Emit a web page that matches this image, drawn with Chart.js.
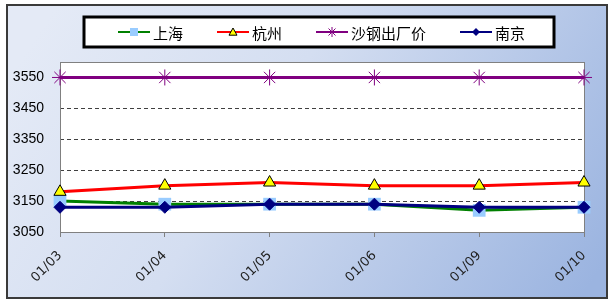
<!DOCTYPE html>
<html lang="zh-cn">
<head>
    <meta charset="UTF-8">
    <title>价格走势</title>
    <script src="https://cdn.jsdelivr.net/npm/chart.js"></script>
    <style>
        html, body { margin: 0; padding: 0; background: #fff; }
        #wrap { width: 614px; height: 303px; }
    </style>
</head>
<body>
    <div id="wrap"><canvas id="myChart" width="614" height="303"></canvas></div>

    <script>
        // 数据
        const categories = ['01/03', '01/04', '01/05', '01/06', '01/09', '01/10'];
        const shanghai = [3150, 3140, 3140, 3140, 3120, 3130];
        const hangzhou = [3180, 3200, 3210, 3200, 3200, 3210];
        const shagang = [3550, 3550, 3550, 3550, 3550, 3550];
        const nanjing = [3130, 3130, 3140, 3140, 3130, 3130];
        const yTicks = [3050, 3150, 3250, 3350, 3450, 3550];
        const yMin = 3050;
        const yMax = 3600;

        // 背景、绘图区边框、图例
        const excelLook = {
            id: 'excelLook',
            beforeDraw(chart) {
                const ctx = chart.ctx;
                ctx.save();
                ctx.fillStyle = '#fff';
                ctx.fillRect(0, 0, chart.width, chart.height);
                const g = ctx.createLinearGradient(60, 0, 560, 330);
                g.addColorStop(0, '#e4eaf6');
                g.addColorStop(0.4, '#d4def1');
                g.addColorStop(1, '#9bb4e0');
                ctx.fillStyle = g;
                ctx.fillRect(7, 5, 600, 293);
                ctx.strokeStyle = '#3a3a3a';
                ctx.lineWidth = 2;
                ctx.strokeRect(7, 5, 600, 293);
                const a = chart.chartArea;
                ctx.fillStyle = '#fff';
                ctx.fillRect(a.left, a.top, a.right - a.left, a.bottom - a.top);
                ctx.restore();
            },
            beforeDatasetsDraw(chart) {
                const ctx = chart.ctx;
                const a = chart.chartArea;
                ctx.save();
                ctx.strokeStyle = '#808080';
                ctx.lineWidth = 1;
                ctx.strokeRect(a.left + 0.5, a.top + 0.5, a.right - a.left, a.bottom - a.top);
                ctx.restore();
            },
            afterDraw(chart) {
                const ctx = chart.ctx;
                ctx.save();
                // 图例框
                ctx.fillStyle = '#fff';
                ctx.fillRect(84, 17, 470, 30);
                ctx.strokeStyle = '#000';
                ctx.lineWidth = 3;
                ctx.strokeRect(84, 17, 470, 30);
                ctx.font = '15px "Noto Sans CJK SC"';
                ctx.textBaseline = 'middle';
                let x = 118;
                const y = 32;
                chart.data.datasets.forEach(ds => {
                    ctx.strokeStyle = ds.borderColor;
                    ctx.lineWidth = 2;
                    ctx.beginPath();
                    ctx.moveTo(x, y);
                    ctx.lineTo(x + 32, y);
                    ctx.stroke();
                    ctx.fillStyle = ds.pointBackgroundColor;
                    ctx.strokeStyle = ds.pointBorderColor;
                    ctx.lineWidth = 1;
                    drawMarker(ctx, ds.pointStyle, ds.legendRadius, x + 16, y);
                    ctx.fillStyle = '#000';
                    ctx.fillText(ds.label, x + 35, y + 1);
                    x += 35 + ctx.measureText(ds.label).width + 34;
                });
                ctx.restore();
            }
        };

        function drawMarker(ctx, style, r, cx, cy) {
            ctx.save();
            ctx.beginPath();
            if (style === 'rect') {
                ctx.rect(cx - r, cy - r, 2 * r, 2 * r);
                ctx.fill();
            } else if (style === 'triangle') {
                ctx.moveTo(cx, cy - r);
                ctx.lineTo(cx + r, cy + r * 0.8);
                ctx.lineTo(cx - r, cy + r * 0.8);
                ctx.closePath();
                ctx.fill();
                ctx.stroke();
            } else if (style === 'rectRot') {
                ctx.moveTo(cx, cy - r);
                ctx.lineTo(cx + r, cy);
                ctx.lineTo(cx, cy + r);
                ctx.lineTo(cx - r, cy);
                ctx.closePath();
                ctx.fill();
            } else {
                ctx.moveTo(cx - r, cy);
                ctx.lineTo(cx + r, cy);
                ctx.moveTo(cx, cy - r);
                ctx.lineTo(cx, cy + r);
                ctx.moveTo(cx - r * 0.7, cy - r * 0.7);
                ctx.lineTo(cx + r * 0.7, cy + r * 0.7);
                ctx.moveTo(cx - r * 0.7, cy + r * 0.7);
                ctx.lineTo(cx + r * 0.7, cy - r * 0.7);
                ctx.stroke();
            }
            ctx.restore();
        }

        const ctx = document.getElementById('myChart').getContext('2d');
        const myChart = new Chart(ctx, {
            type: 'line',
            data: {
                labels: categories,
                datasets: [
                    {
                        label: '上海',
                        data: shanghai,
                        borderColor: '#008000',
                        borderWidth: 3,
                        pointStyle: 'rect',
                        pointRadius: 9,
                        pointBackgroundColor: '#99ccff',
                        pointBorderColor: '#99ccff',
                        pointBorderWidth: 0,
                        legendRadius: 4,
                        order: 3
                    },
                    {
                        label: '杭州',
                        data: hangzhou,
                        borderColor: '#ff0000',
                        borderWidth: 3,
                        pointStyle: 'triangle',
                        pointRadius: 7,
                        pointBackgroundColor: '#ffff00',
                        pointBorderColor: '#000000',
                        pointBorderWidth: 1,
                        legendRadius: 4,
                        order: 2
                    },
                    {
                        label: '沙钢出厂价',
                        data: shagang,
                        borderColor: '#800080',
                        borderWidth: 3,
                        pointStyle: 'star',
                        pointRadius: 8,
                        pointBackgroundColor: '#800080',
                        pointBorderColor: '#800080',
                        pointBorderWidth: 1,
                        legendRadius: 5,
                        order: 1
                    },
                    {
                        label: '南京',
                        data: nanjing,
                        borderColor: '#000080',
                        borderWidth: 3,
                        pointStyle: 'rectRot',
                        pointRadius: 6,
                        pointBackgroundColor: '#000080',
                        pointBorderColor: '#000080',
                        pointBorderWidth: 1,
                        legendRadius: 4,
                        order: 0
                    }
                ]
            },
            options: {
                responsive: false,
                animation: false,
                layout: {
                    padding: { left: 0, right: 30, top: 62, bottom: 0 }
                },
                plugins: {
                    legend: { display: false },
                    tooltip: { enabled: false }
                },
                elements: {
                    line: { tension: 0 }
                },
                scales: {
                    x: {
                        offset: false,
                        grid: {
                            drawOnChartArea: false,
                            drawTicks: true,
                            tickLength: 5,
                            color: '#808080'
                        },
                        border: { display: false },
                        ticks: {
                            autoSkip: false,
                            minRotation: 45,
                            maxRotation: 45,
                            padding: 11,
                            color: '#222',
                            font: { family: 'DejaVu Sans', size: 13 }
                        },
                        afterFit(scale) { scale.height = 71; }
                    },
                    y: {
                        min: yMin,
                        max: yMax,
                        grid: {
                            drawTicks: false,
                            color: '#404040',
                            lineWidth: 1
                        },
                        border: { display: false, dash: [4, 3] },
                        ticks: {
                            padding: 16,
                            color: '#000',
                            font: { family: 'Liberation Sans', size: 14 },
                            callback: v => String(v)
                        },
                        afterBuildTicks(scale) {
                            scale.ticks = yTicks.map(v => ({ value: v }));
                        },
                        afterFit(scale) { scale.width = 60; }
                    }
                }
            },
            plugins: [excelLook]
        });
    </script>
</body>
</html>
